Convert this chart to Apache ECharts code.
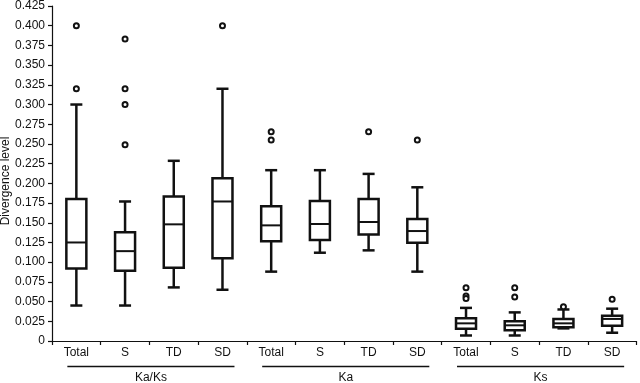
<!DOCTYPE html>
<html><head><meta charset="utf-8">
<script src="https://cdn.jsdelivr.net/npm/echarts@6/dist/echarts.min.js"></script>
<style>html,body{margin:0;padding:0;background:#fff}#c{width:640px;height:383px}</style>
</head><body><div id="c"></div>
<script>
const tickLabels = ['Total','S','TD','SD','Total','S','TD','SD','Total','S','TD','SD'];
const lowWhisker  = [0.045, 0.045, 0.068, 0.065, 0.088, 0.112, 0.115, 0.088, 0.007, 0.007, 0.016, 0.0105];
const q1          = [0.092, 0.089, 0.093, 0.105, 0.1265, 0.128, 0.135, 0.1245, 0.0156, 0.0135, 0.0173, 0.0194];
const median      = [0.125, 0.114, 0.148, 0.177, 0.1467, 0.1484, 0.151, 0.1395, 0.0224, 0.0199, 0.0224, 0.028];
const q3          = [0.180, 0.138, 0.1834, 0.2066, 0.1708, 0.1775, 0.180, 0.1547, 0.029, 0.025, 0.0278, 0.032];
const highWhisker = [0.300, 0.177, 0.2286, 0.320, 0.2167, 0.2167, 0.212, 0.195, 0.042, 0.0363, 0.040, 0.041];
const outlierCat   = [0, 0, 1, 1, 1, 1, 3, 4, 4, 6, 7, 8, 8, 8, 9, 9, 10, 11];
const outlierValue = [0.400, 0.320, 0.383, 0.320, 0.300, 0.249, 0.400, 0.2656, 0.255, 0.2656, 0.255, 0.0675, 0.057, 0.054, 0.0675, 0.0557, 0.0434, 0.053];
const groupNames = ['Ka/Ks', 'Ka', 'Ks'];
const groupFirst = [0, 4, 8];
const groupLast  = [3, 7, 11];
const yMax = 0.425, yStep = 0.025;

const boxData = tickLabels.map((_, i) => [i, lowWhisker[i], q1[i], median[i], q3[i], highWhisker[i]]);
const outData = outlierCat.map((c, i) => [c, outlierValue[i]]);
const FONT = '"Liberation Sans", Arial, Helvetica, sans-serif';
const INK = '#111';
const FS = 12;

function renderBox(params, api) {
  const x = api.value(0);
  const p = v => api.coord([x, v]);
  const lo = p(api.value(1)), a = p(api.value(2)), m = p(api.value(3)), b = p(api.value(4)), hi = p(api.value(5));
  const cx = lo[0], hw = 10, cw = 6;
  const st = {stroke: INK, lineWidth: 2.5, fill: null};
  return {type: 'group', children: [
    {type: 'line', shape: {x1: cx, y1: lo[1], x2: cx, y2: a[1]}, style: st},
    {type: 'line', shape: {x1: cx, y1: b[1], x2: cx, y2: hi[1]}, style: st},
    {type: 'line', shape: {x1: cx - cw, y1: lo[1], x2: cx + cw, y2: lo[1]}, style: st},
    {type: 'line', shape: {x1: cx - cw, y1: hi[1], x2: cx + cw, y2: hi[1]}, style: st},
    {type: 'rect', shape: {x: cx - hw, y: b[1], width: 2 * hw, height: a[1] - b[1]}, style: {stroke: INK, lineWidth: 2.5, fill: '#fff'}},
    {type: 'line', shape: {x1: cx - hw, y1: m[1], x2: cx + hw, y2: m[1]}, style: {stroke: INK, lineWidth: 2}}
  ]};
}

const chart = echarts.init(document.getElementById('c'), null, {renderer: 'canvas'});
chart.setOption({
  animation: false,
  backgroundColor: '#fff',
  grid: {left: 52, right: 3.5, top: 5, bottom: 42, containLabel: false},
  xAxis: {
    type: 'category', data: tickLabels, boundaryGap: true,
    axisLine: {show: true, lineStyle: {color: INK, width: 1.2}},
    axisTick: {show: true, inside: false, length: 4, alignWithLabel: false, lineStyle: {color: INK, width: 1.2}},
    axisLabel: {show: true, interval: 0, margin: 6, color: INK, fontSize: FS, fontFamily: FONT},
    splitLine: {show: false}
  },
  yAxis: {
    type: 'value', min: 0, max: yMax, interval: yStep,
    axisLine: {show: true, lineStyle: {color: INK, width: 1.2}},
    axisTick: {show: true, length: 4, lineStyle: {color: INK, width: 1.2}},
    axisLabel: {margin: 7, color: INK, fontSize: FS, fontFamily: FONT,
      formatter: v => (Math.abs(v) < 1e-9 ? '0' : v.toFixed(3))},
    splitLine: {show: false}
  },
  series: [
    {type: 'custom', renderItem: renderBox, data: boxData, encode: {x: 0, y: [1, 2, 3, 4, 5]}, z: 2},
    {type: 'scatter', data: outData, symbol: 'circle', symbolSize: 5,
      itemStyle: {color: '#fff', borderColor: INK, borderWidth: 2, opacity: 1}, z: 3}
  ]
});

const graphics = [{
  type: 'text', x: 6, y: 181, rotation: Math.PI / 2,
  style: {text: 'Divergence level', fill: INK, font: FS + 'px ' + FONT, align: 'center', verticalAlign: 'middle'}
}];
groupNames.forEach((name, g) => {
  const x0 = chart.convertToPixel({xAxisIndex: 0}, groupFirst[g]) - 9;
  const x1 = chart.convertToPixel({xAxisIndex: 0}, groupLast[g]) + 12;
  graphics.push({type: 'line', shape: {x1: x0, y1: 366.5, x2: x1, y2: 366.5}, style: {stroke: INK, lineWidth: 1.5}});
  graphics.push({type: 'text', x: (x0 + x1) / 2, y: 377.5,
    style: {text: name, fill: INK, font: FS + 'px ' + FONT, align: 'center', verticalAlign: 'middle'}});
});
chart.setOption({graphic: graphics});
</script>
</body></html>
